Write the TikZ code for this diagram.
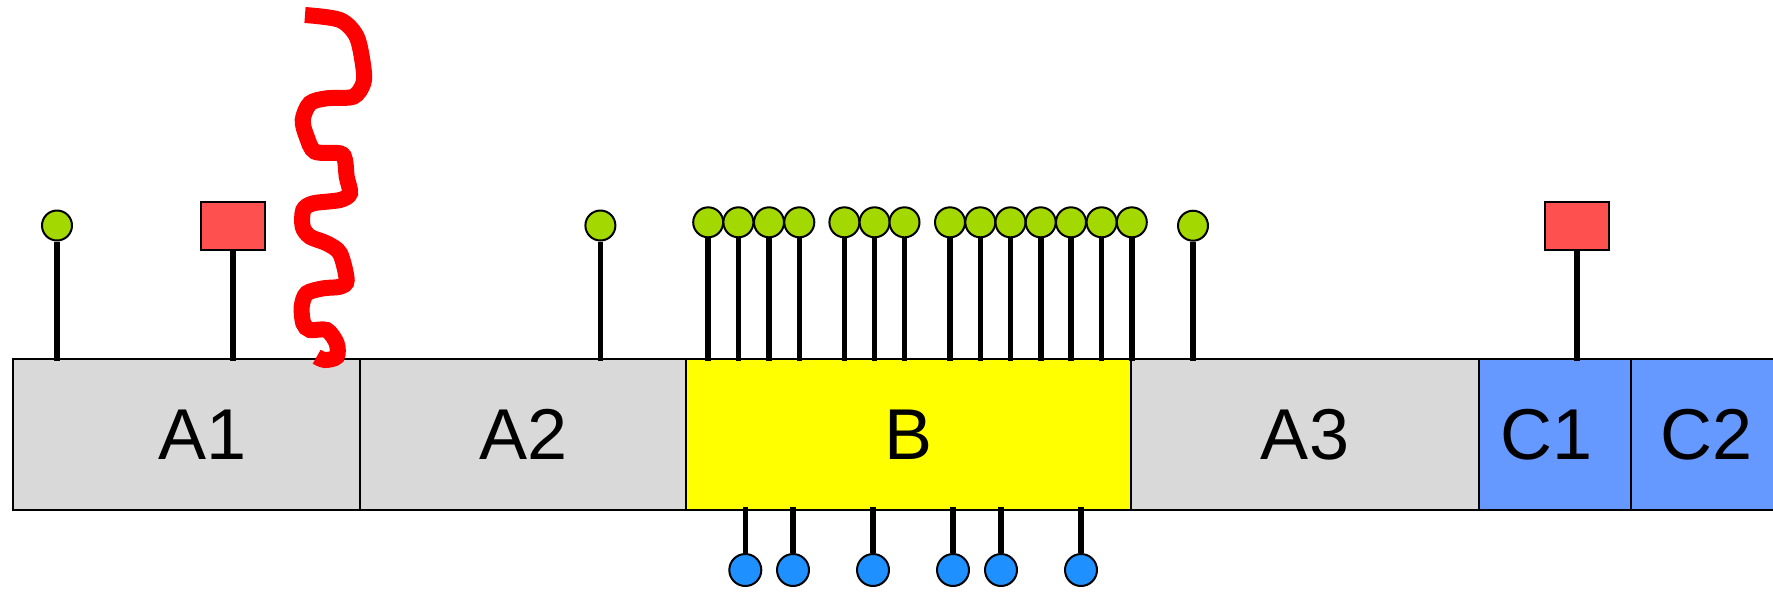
\documentclass[tikz,border=0pt]{standalone}
\usepackage{fontspec}
\setmainfont{Liberation Sans}
\usetikzlibrary{positioning}
\definecolor{cgrey}{HTML}{D9D9D9}
\definecolor{cyellow}{HTML}{FFFF00}
\definecolor{cblue}{HTML}{6699FF}
\definecolor{cgreen}{HTML}{A3D900}
\definecolor{cdot}{HTML}{1E90FF}
\definecolor{cflag}{HTML}{FF5050}
\definecolor{cwave}{HTML}{FF0000}
\tikzset{
  every picture/.style={x=0.5pt, y=-0.5pt},
  segtext/.style={font=\fontsize{36}{43}\selectfont, inner sep=0pt},
  seg/.style={draw=black, fill=#1, line width=1pt, minimum height=75.35pt, inner sep=0pt, outer sep=0pt, segtext},
  seg/.default=cgrey,
  ball/.style={circle, draw=black, fill=cgreen, line width=1pt, minimum size=15pt, inner sep=0pt},
  dot/.style={circle, draw=black, fill=cdot, line width=1pt, minimum size=16pt, inner sep=0pt},
  flag/.style={draw=black, fill=cflag, line width=1pt, minimum width=32.3pt, minimum height=24pt, inner sep=0pt},
  stem/.style={draw=black, line width=2.8pt},
  wave/.style={draw=cwave, line width=8pt},
}

\begin{document}
\begin{tikzpicture}
  \clip (0,0) rectangle (1773,591);
  % the chain of segments
  \node[seg, minimum width=173.8pt, label={[segtext, xshift=8pt]center:A1}] (A1) at (186.5,434.65) {};
  \node[seg, minimum width=162.85pt, right=0pt of A1] (A2) {A2};
  \node[seg=cyellow, minimum width=222.5pt, right=0pt of A2] (B) {B};
  \node[seg, minimum width=174pt, right=0pt of B] (A3) {A3};
  \node[seg=cblue, minimum width=75.85pt, right=0pt of A3, label={[segtext, xshift=-4pt]center:C1}] (C1) {};
  \node[seg=cblue, minimum width=75.85pt, right=0pt of C1] (C2) {C2};
  % green balls on top
  \foreach \x/\y [count=\i] in {57/225.5, 600.4/225.5, 708.2/222.3, 738.4/222.3, 769.0/222.3, 799.3/222.3,
      844.4/222.3, 874.6/222.3, 904.5/222.3, 950.0/222.3, 980.3/222.3, 1010.5/222.3, 1040.7/222.3,
      1071.0/222.3, 1101.6/222.3, 1131.8/222.3, 1193/225.7} {
    \node[ball] (g\i) at (\x,\y) {};
    \draw[stem] (g\i.south) -- ([yshift=-1pt]g\i.south |- A1.north);
  }
  % blue balls below B
  \foreach \x [count=\i] in {745.3, 793, 873, 953, 1001, 1081} {
    \node[dot] (d\i) at (\x,570) {};
    \draw[stem] (d\i.north) -- ([yshift=1.5pt]d\i.north |- B.south);
  }
  % red flags
  \node[flag] (f1) at (233,226) {};
  \node[flag] (f2) at (1577,226) {};
  \draw[stem] (f1.south) -- ([yshift=-1pt]f1.south |- A1.north);
  \draw[stem] (f2.south) -- ([yshift=-1pt]f2.south |- C1.north);
  % the wavy chain
  \draw[wave] plot[smooth, tension=0.5] coordinates {(305,15) (340,20) (356.7,36.7) (363.3,66.7) (363.3,83.3)
    (353.3,96.7) (326.7,98.3) (310,103.3) (302.7,120) (306.7,136.7) (315,151.7) (340,153.3) (345,160)
    (346.7,176.7) (350,193.3) (340,200) (313.3,203.3) (303.3,210) (302.7,226.7) (310,236.7) (326.7,243.3)
    (340,253.3) (346.7,280) (340,286.7) (323.3,288.3) (306.7,293.3) (301.7,306.7) (303.3,323.3) (310,330)
    (326.7,330) (336.7,343.3) (336.7,356.7) (325,360) (316.7,356.7)};
\end{tikzpicture}
\end{document}
